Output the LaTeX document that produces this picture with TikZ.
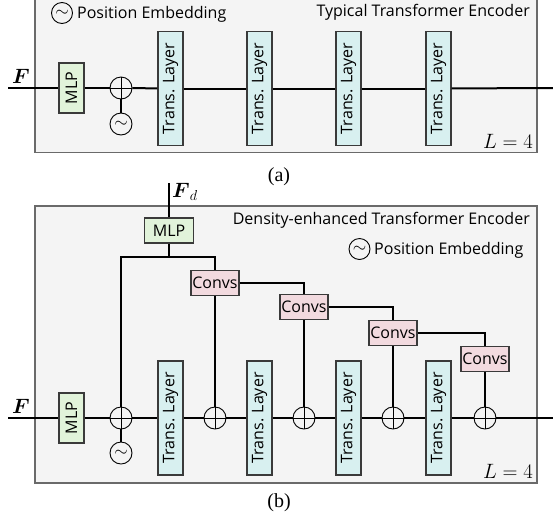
\documentclass[tikz,border=0pt]{standalone}
\usepackage{amsmath}
\usepackage{fontspec}
\setsansfont{Open Sans}
\newfontfamily\capfont{Liberation Serif}
\definecolor{boxfill}{HTML}{F4F4F4}
\definecolor{boxline}{HTML}{6A6A6A}
\definecolor{mlpfill}{HTML}{E1F3DA}
\definecolor{tlfill}{HTML}{D8F0F0}
\definecolor{cvfill}{HTML}{F2DADF}
\definecolor{nodeline}{HTML}{3A3A3A}
\begin{document}
\begin{tikzpicture}[x=1pt,y=-1pt,
  sf/.style={font=\sffamily\fontsize{16}{19}\selectfont},
  conn/.style={line width=2pt, black},
  encbox/.style={draw=boxline, fill=boxfill, line width=1.1pt},
  blk/.style={draw=nodeline, line width=1.1pt, inner sep=0pt, sf},
  mlpv/.style={blk, fill=mlpfill, rotate=90, minimum width=50pt, minimum height=25pt},
  mlph/.style={blk, fill=mlpfill, minimum width=49pt, minimum height=25pt},
  tl/.style={blk, fill=tlfill, rotate=90, minimum width=114pt, minimum height=25pt},
  cv/.style={blk, fill=cvfill, minimum width=48pt, minimum height=25pt},
  oplus/.style={circle, draw=black, line width=0.9pt, minimum size=22pt, inner sep=0pt,
    path picture={\draw[line width=0.8pt] (path picture bounding box.north) -- (path picture bounding box.south)
      (path picture bounding box.west) -- (path picture bounding box.east);}},
  tilde/.style={circle, draw=black, line width=0.9pt, minimum size=22pt, inner sep=0pt, font=\fontsize{16}{16}\selectfont},
  legc/.style={tilde, minimum size=21pt},
  mathlbl/.style={font=\fontsize{21}{24}\selectfont, inner sep=0pt},
  captxt/.style={font=\capfont\fontsize{20}{22}\selectfont, inner sep=0pt}
]
\useasboundingbox (0,0) rectangle (553,520);

% ---------------- (a) ----------------
\draw[encbox] (35,-3) rectangle (537,152.5);
\node[legc] (lega) at (62,13) {$\sim$};
\node[sf, anchor=base west, inner sep=0pt] (legta) at (77,18) {Position Embedding};
\node[sf, anchor=base east, inner sep=0pt] (tita) at (530,16) {Typical Transformer Encoder};
\node[mathlbl, anchor=base east] (La) at (533,148) {$L=4$};

\coordinate (ina) at (8,88);
\coordinate (outa) at (553,88);
\node[mathlbl, anchor=base west] (Fa) at (12,83) {$\boldsymbol{F}$};
\node[mlpv] (mlpa) at (71.5,88) {MLP};
\node[oplus] (pa) at (121,88) {};
\node[tilde] (ta) at (121,124) {$\sim$};
\node[tl] (tla1) at (170.5,88.5) {Trans. Layer};
\node[tl] (tla2) at (259.5,88.5) {Trans. Layer};
\node[tl] (tla3) at (348.5,88.5) {Trans. Layer};
\node[tl] (tla4) at (438.5,88.5) {Trans. Layer};
\draw[conn] (ina) -- (mlpa);
\draw[conn] (mlpa) -- (pa);
\draw[conn] (pa) -- (tla1);
\draw[conn] (tla1) -- (tla2);
\draw[conn] (tla2) -- (tla3);
\draw[conn] (tla3) -- (tla4);
\draw[conn] (tla4) -- (outa);
\draw[conn] (ta) -- (pa);
\node[captxt, anchor=base] (capa) at (279,181) {(a)};

% ---------------- (b) ----------------
\draw[encbox] (35,206) rectangle (537,483);
\node[sf, anchor=base east, inner sep=0pt] (titb) at (530,224) {Density-enhanced Transformer Encoder};
\node[legc] (legb) at (359.5,249) {$\sim$};
\node[sf, anchor=base west, inner sep=0pt] (legtb) at (374,254) {Position Embedding};
\node[mathlbl, anchor=base east] (Lb) at (533,478) {$L=4$};

\coordinate (inb) at (8,418);
\coordinate (outb) at (553,418);
\node[mathlbl, anchor=base west] (Fb) at (12,413) {$\boldsymbol{F}$};
\node[mlpv] (mlpb) at (71.5,418) {MLP};
\node[oplus] (pb1) at (121,418) {};
\node[tilde] (tb) at (121,453) {$\sim$};
\node[tl] (tlb1) at (170.5,418) {Trans. Layer};
\node[oplus] (pb2) at (215,418) {};
\node[tl] (tlb2) at (259.5,418) {Trans. Layer};
\node[oplus] (pb3) at (304,418) {};
\node[tl] (tlb3) at (348.5,418) {Trans. Layer};
\node[oplus] (pb4) at (393,418) {};
\node[tl] (tlb4) at (438.5,418) {Trans. Layer};
\node[oplus] (pb5) at (485,418) {};

\node[mlph] (mlpt) at (169,230.5) {MLP};
\coordinate (fd) at (169,183);
\node[mathlbl, anchor=base west, font=\fontsize{20}{22}\selectfont] (Fdl) at (172,197) {$\boldsymbol{F}_d$};
\coordinate (jb) at (169,257);
\node[cv] (c1) at (215,283) {Convs};
\node[cv] (c2) at (304,307) {Convs};
\node[cv] (c3) at (393,333) {Convs};
\node[cv] (c4) at (485,359) {Convs};

\draw[conn] (inb) -- (mlpb);
\draw[conn] (mlpb) -- (pb1);
\draw[conn] (pb1) -- (tlb1);
\draw[conn] (tlb1) -- (pb2);
\draw[conn] (pb2) -- (tlb2);
\draw[conn] (tlb2) -- (pb3);
\draw[conn] (pb3) -- (tlb3);
\draw[conn] (tlb3) -- (pb4);
\draw[conn] (pb4) -- (tlb4);
\draw[conn] (tlb4) -- (pb5);
\draw[conn] (pb5) -- (outb);
\draw[conn] (tb) -- (pb1);

\draw[conn] (fd) -- (mlpt);
\draw[conn] (mlpt) -- (jb);
\draw[conn] (pb1.north) |- (jb) -| (c1.north);
\draw[conn] (c1) -- (pb2);
\draw[conn] (c1.east) -| (c2.north);
\draw[conn] (c2) -- (pb3);
\draw[conn] (c2.east) -| (c3.north);
\draw[conn] (c3) -- (pb4);
\draw[conn] (c3.east) -| (c4.north);
\draw[conn] (c4) -- (pb5);
\node[captxt, anchor=base] (capb) at (279,507) {(b)};
\end{tikzpicture}
\end{document}
